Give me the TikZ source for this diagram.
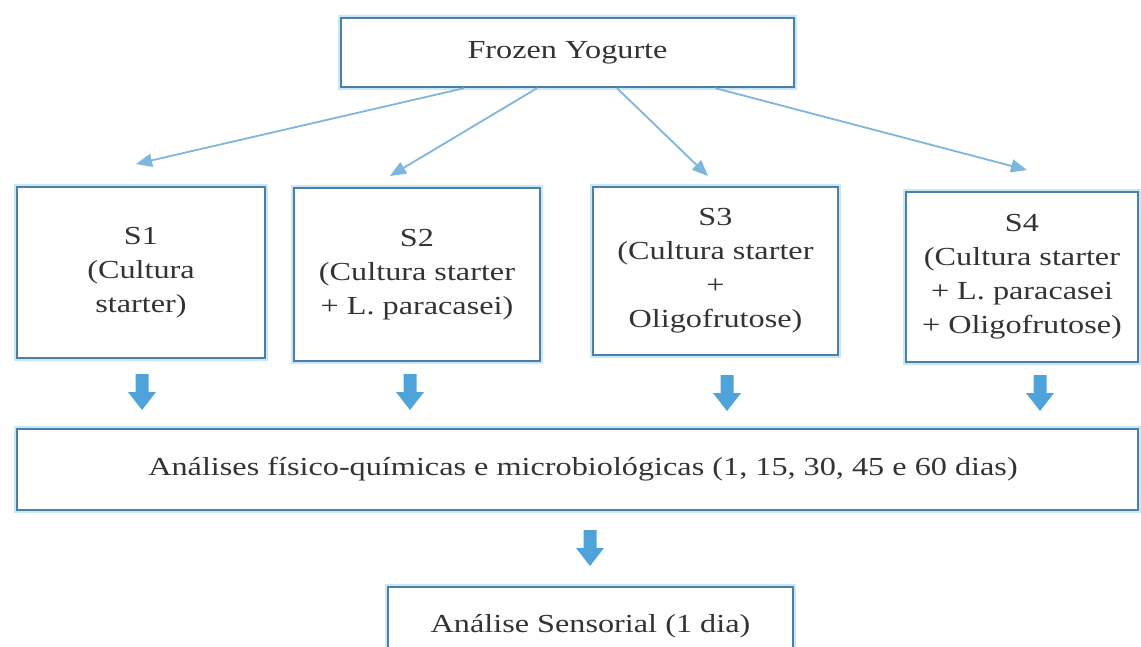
\documentclass[tikz,border=0pt]{standalone}
\usepackage{fontspec}
\setmainfont{Liberation Serif}[FakeStretch=1.24]
\usetikzlibrary{arrows.meta}
\definecolor{boxline}{HTML}{4A7FAA}
\definecolor{boxglow}{HTML}{CBE6F5}
\definecolor{arrowblue}{HTML}{4FA3DB}
\definecolor{thinblue}{HTML}{7DB6DF}
\definecolor{txt}{HTML}{333333}
\begin{document}
\begin{tikzpicture}[x=1pt,y=-1pt,
  box/.style={draw=boxline, line width=2.4pt, preaction={draw=boxglow, line width=6pt},
    fill=white, inner sep=0pt, align=center, text=txt,
    font=\fontsize{26}{34}\selectfont},
  link/.style={draw=thinblue, line width=1.8pt, -{Triangle[length=16pt,width=13pt]}},
  downarrow/.pic={\fill[arrowblue] (-6.5,0) -- (6.5,0) -- (6.5,18) -- (14,18) -- (0,36)
      -- (-14,18) -- (-6.5,18) -- cycle;}
]
\useasboundingbox (0,0) rectangle (1141,647);
\clip (0,0) rectangle (1141,647);
\fill[white] (0,0) rectangle (1141,647);

\node[box, minimum width=453pt, minimum height=69pt] (top) at (567.5,52.5) {Frozen Yogurte};
\node[box, minimum width=248pt, minimum height=171pt] (s1) at (141,272.5) {S1\\(Cultura\\starter)};
\node[box, minimum width=246pt, minimum height=173pt] (s2) at (417,274.5) {S2\\(Cultura starter\\+ L. paracasei)};
\node[box, minimum width=245pt, minimum height=168pt] (s3) at (715.5,271) {S3\\(Cultura starter\\+\\Oligofrutose)};
\node[box, minimum width=232pt, minimum height=170pt] (s4) at (1022,277) {S4\\(Cultura starter\\+ L. paracasei\\+ Oligofrutose)};
\node[box, minimum width=1121pt, minimum height=81pt] (ana) at (577.5,469.5) {\hspace*{11pt}Análises físico-químicas e microbiológicas (1, 15, 30, 45 e 60 dias)};
\node[box, minimum width=405pt, minimum height=78pt] (sens) at (590.5,626) {\raisebox{-3pt}{Análise Sensorial (1 dia)}};

\coordinate (e1) at (136,164);
\coordinate (e2) at (390,176);
\coordinate (e3) at (708,176);
\coordinate (e4) at (1027,170);
\draw[link] ([xshift=-103.5pt]top.south) -- (e1);
\draw[link] ([xshift=-30.5pt]top.south) -- (e2);
\draw[link] ([xshift=49.5pt]top.south) -- (e3);
\draw[link] ([xshift=148pt]top.south) -- (e4);

\pic at (142,374) {downarrow};
\pic at (410,374) {downarrow};
\pic at (727,375) {downarrow};
\pic at (1040,375) {downarrow};
\pic at (590,530) {downarrow};
\end{tikzpicture}
\end{document}
